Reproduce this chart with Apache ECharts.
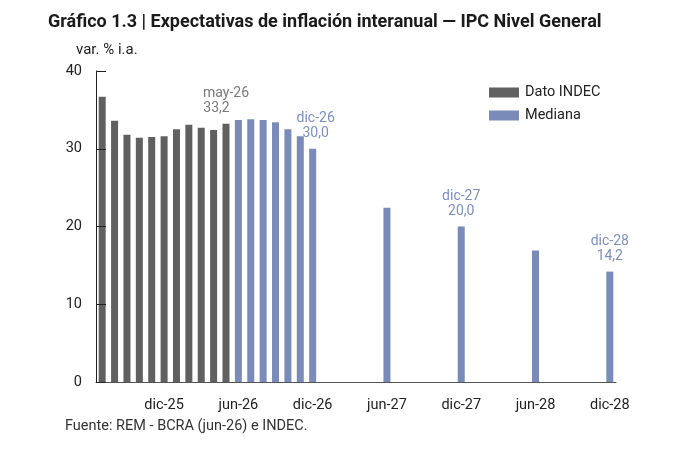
<!DOCTYPE html>
<html>
<head>
    <meta charset="utf-8">
    <title>Expectativas de inflación interanual</title>
    <style>
        html, body { margin: 0; padding: 0; background: #fff; }
        #main { width: 691px; height: 467px; }
    </style>
</head>
<body>
    <div id="main"></div>
    <script src="https://cdn.jsdelivr.net/npm/echarts@6/dist/echarts.min.js"></script>
    <script>
    // meses jul-25 .. dic-28
    var months = [
        'jul-25','ago-25','sep-25','oct-25','nov-25','dic-25',
        'ene-26','feb-26','mar-26','abr-26','may-26','jun-26',
        'jul-26','ago-26','sep-26','oct-26','nov-26','dic-26',
        'ene-27','feb-27','mar-27','abr-27','may-27','jun-27',
        'jul-27','ago-27','sep-27','oct-27','nov-27','dic-27',
        'ene-28','feb-28','mar-28','abr-28','may-28','jun-28',
        'jul-28','ago-28','sep-28','oct-28','nov-28','dic-28'
    ];
    // Dato INDEC: jul-25 .. may-26
    var indecMonths = ['jul-25','ago-25','sep-25','oct-25','nov-25','dic-25','ene-26','feb-26','mar-26','abr-26','may-26'];
    var indecValues = [36.7, 33.6, 31.8, 31.4, 31.5, 31.6, 32.5, 33.1, 32.7, 32.4, 33.2];
    // Mediana REM
    var remMonths = ['jun-26','jul-26','ago-26','sep-26','oct-26','nov-26','dic-26','jun-27','dic-27','jun-28','dic-28'];
    var remValues = [33.7, 33.8, 33.7, 33.4, 32.5, 31.6, 30.0, 22.4, 20.0, 16.9, 14.2];
    // puntos rotulados
    var labelled = ['may-26', 'dic-26', 'dic-27', 'dic-28'];

    var GRAY = '#606060';
    var BLUE = '#7a8bb9';

    function fmt(v) { return v.toFixed(1).replace('.', ','); }

    function buildSeries(ms, vals, labelColor) {
        var out = months.map(function () { return null; });
        ms.forEach(function (m, i) {
            var item = { value: vals[i] };
            if (labelled.indexOf(m) >= 0) {
                // el rótulo de may-26 tiene el valor corrido a la izquierda
                var shiftVal = m === 'may-26' ? 19 : 0;
                item.label = {
                    show: true,
                    position: 'top',
                    distance: 8,
                    offset: m === 'dic-26' ? [3, 0] : [0, 0],
                    color: labelColor,
                    fontSize: 14,
                    lineHeight: 15,
                    formatter: '{a|' + m + '}\n{b|' + fmt(vals[i]) + '}',
                    rich: {
                        a: { color: labelColor, fontSize: 14, lineHeight: 15 },
                        b: { color: labelColor, fontSize: 14, lineHeight: 15, padding: [0, shiftVal, 0, 0] }
                    }
                };
            }
            out[months.indexOf(m)] = item;
        });
        return out;
    }

    var showLabel = function (idx) { return (idx - 5) % 6 === 0; };

    var myChart = echarts.init(document.getElementById('main'));
    var option = {
        textStyle: { fontFamily: 'Roboto' },
        animation: false,
        title: [
            {
                text: 'Gráfico 1.3 | Expectativas de inflación interanual — IPC Nivel General',
                left: 43, top: 8,
                textStyle: { fontSize: 18, fontWeight: 'bold', color: '#1a1a1a', fontFamily: 'Roboto' }
            },
            {
                text: 'var. % i.a.',
                left: 71, top: 38,
                textStyle: { fontSize: 15, fontWeight: 'normal', color: '#222', fontFamily: 'Roboto' }
            },
            {
                text: 'Fuente: REM - BCRA (jun-26) e INDEC.',
                left: 60, top: 414,
                textStyle: { fontSize: 14.5, fontWeight: 'normal', color: '#333', fontFamily: 'Roboto' }
            }
        ],
        legend: {
            orient: 'vertical',
            left: 484, top: 80,
            itemWidth: 30, itemHeight: 10,
            itemGap: 8,
            icon: 'rect',
            textStyle: { fontSize: 14.5, color: '#222', padding: [0, 0, 0, 1] },
            data: ['Dato INDEC', 'Mediana']
        },
        grid: { left: 96, right: 75, top: 71, bottom: 85 },
        xAxis: {
            type: 'category',
            data: months,
            z: 5,
            axisLine: { lineStyle: { color: '#555', width: 1 } },
            axisTick: {
                inside: true, length: 9, alignWithLabel: true,
                interval: showLabel,
                lineStyle: { color: '#222' }
            },
            axisLabel: {
                interval: showLabel,
                color: '#222', fontSize: 14.5, margin: 16
            }
        },
        yAxis: {
            type: 'value',
            min: 0, max: 40, interval: 10,
            z: 5,
            splitLine: { show: false },
            axisLine: { show: true, lineStyle: { color: '#222' } },
            axisTick: { show: true, inside: true, length: 10, lineStyle: { color: '#222' } },
            axisLabel: { color: '#222', fontSize: 14.5, margin: 14 }
        },
        series: [
            {
                name: 'Dato INDEC',
                type: 'bar',
                barWidth: 7,
                barGap: '-100%',
                itemStyle: { color: GRAY },
                data: buildSeries(indecMonths, indecValues, '#7a7a7a')
            },
            {
                name: 'Mediana',
                type: 'bar',
                barWidth: 7,
                itemStyle: { color: BLUE },
                data: buildSeries(remMonths, remValues, '#7d8fbf')
            }
        ]
    };
    myChart.setOption(option);
    </script>
</body>
</html>
